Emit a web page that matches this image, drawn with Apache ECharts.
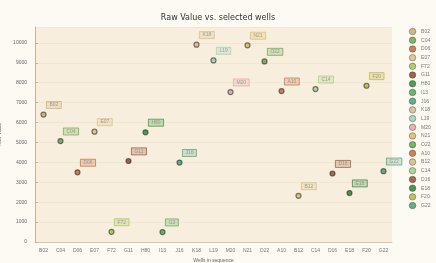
<!DOCTYPE html>
<html>
<head>
<meta charset="utf-8">
<script src="https://cdn.jsdelivr.net/npm/echarts@6/dist/echarts.min.js"></script>
<style>
  html, body { margin: 0; padding: 0; background: #fdfaf4; }
  #draw { width: 436px; height: 263px; }
</style>
</head>
<body>
<div id="draw"></div>
<script>
// wells in sequence (x categories, also legend names)
var wells = ['B02', 'C04', 'D06', 'E07', 'F72', 'G11', 'H80', 'I13', 'J16', 'K18', 'L19',
  'M20', 'N21', 'O22', 'A10', 'B12', 'C14', 'D16', 'E18', 'F20', 'G22']
// raw value per well
var rawValues = [6400, 5070, 3500, 5540, 510, 4070, 5510, 500, 3990, 9910, 9120,
  7530, 9880, 9070, 7580, 2320, 7680, 3440, 2460, 7850, 3560]
var colors = ['#c9a865', '#5aa83c', '#c0602e', '#d6bc7a', '#9cc24a', '#8a3e1e', '#1f8a2a',
  '#44a64a', '#3c9c78', '#d4b482', '#8ecfb0', '#e0a0a0', '#d8b850', '#5aa040', '#c46432',
  '#d4b878', '#9ad07a', '#8c4a26', '#1e7e2a', '#b8b030', '#3c9c6a']
var yTicks = { min: 0, max: 10800, interval: 1000 }

function fade (hex, a) {
  var r = parseInt(hex.substr(1, 2), 16)
  var g = parseInt(hex.substr(3, 2), 16)
  var b = parseInt(hex.substr(5, 2), 16)
  return 'rgba(' + r + ',' + g + ',' + b + ',' + a + ')'
}

var series = []
for (var i = 0; i < wells.length; i++) {
  var data = []
  data.push([wells[i], rawValues[i]])
  series.push({
    name: wells[i],
    type: 'scatter',
    symbol: 'circle',
    symbolSize: 5,
    data: data,
    itemStyle: {
      color: colors[i],
      borderColor: 'rgba(40,40,40,0.75)',
      borderWidth: 1.2
    },
    label: {
      show: true,
      position: [6, -10],
      formatter: '{a}',
      fontSize: 5,
      color: '#888',
      backgroundColor: fade(colors[i], 0.28),
      borderColor: fade(colors[i], 0.8),
      borderWidth: 0.5,
      padding: [1, 3]
    }
  })
}

var myChart = echarts.init(document.getElementById('draw'))
myChart.setOption({
  backgroundColor: '#fdfaf4',
  animation: false,
  color: colors,
  title: { // 标题
    text: 'Raw Value vs. selected wells',
    left: 'center',
    top: 9,
    textStyle: {
      fontSize: 8,
      fontWeight: 'normal',
      color: '#333',
      fontFamily: 'DejaVu Sans'
    }
  },
  legend: {
    orient: 'vertical',
    left: 409,
    top: 28,
    padding: 0,
    icon: 'circle',
    itemWidth: 7,
    itemHeight: 6.5,
    itemGap: 1.6,
    data: wells,
    itemStyle: { borderWidth: 0.6 },
    textStyle: {
      fontSize: 5,
      lineHeight: 6,
      color: '#777'
    }
  },
  grid: {
    left: 35,
    right: 44,
    top: 27,
    bottom: 21,
    outerBoundsMode: 'none',
    containLabel: false,
    show: true,
    backgroundColor: '#f8eedd',
    borderWidth: 0
  },
  xAxis: {
    type: 'category',
    data: wells,
    name: 'Wells in sequence',
    nameLocation: 'middle',
    nameGap: 13,
    nameTextStyle: { fontSize: 5, color: '#666' },
    axisLine: { lineStyle: { color: '#d8c8a8' } },
    axisTick: { show: false },
    axisLabel: { fontSize: 5, color: '#777', interval: 0, margin: 6 },
    splitLine: { show: false }
  },
  yAxis: {
    type: 'value',
    min: yTicks.min,
    max: yTicks.max,
    interval: yTicks.interval,
    name: 'Raw Value',
    nameLocation: 'middle',
    nameGap: 25,
    nameTextStyle: { fontSize: 5, color: '#666' },
    axisLine: { show: true, lineStyle: { color: '#c8b494' } },
    axisTick: { show: true, inside: true, length: 3, lineStyle: { color: '#c8b494' } },
    axisLabel: {
      fontSize: 5,
      color: '#666',
      margin: 8,
      showMaxLabel: false,
      formatter: function (v) { return String(v) }
    },
    splitLine: { lineStyle: { color: '#f1e6d2', width: 1 } }
  },
  series: series
})
</script>
</body>
</html>
